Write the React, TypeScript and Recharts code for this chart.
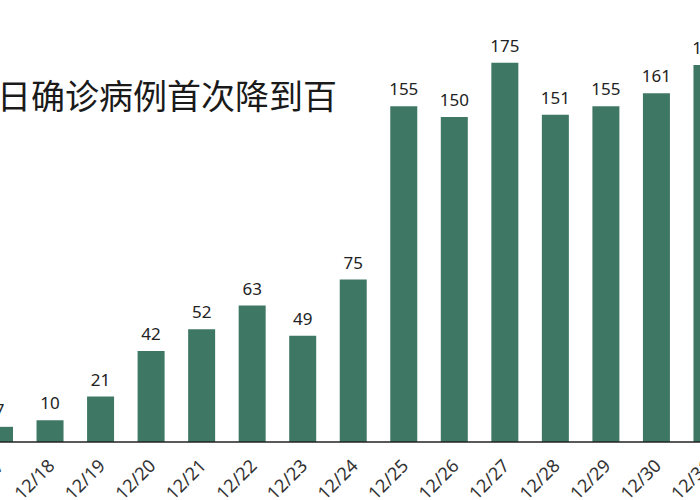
import React from "react";
import { BarChart, Bar, XAxis, YAxis, LabelList } from "recharts";

const categories = ["12/17", "12/18", "12/19", "12/20", "12/21", "12/22", "12/23", "12/24", "12/25", "12/26", "12/27", "12/28", "12/29", "12/30", "12/31"];
const cases = [7, 10, 21, 42, 52, 63, 49, 75, 155, 150, 175, 151, 155, 161, 174];
const titleText = "日确诊病例首次降到百";

const data = categories.map((c, i) => ({ date: c, value: cases[i] }));

const BAR_COLOR = "#3F7765";

const Tick = (props: any) => {
  const { x, y, payload } = props;
  return (
    <g transform={`translate(${x + 6},${y + 17})`}>
      <text
        transform="rotate(-45)"
        textAnchor="end"
        fontSize={18}
        fontFamily="'Noto Sans', 'Open Sans', sans-serif"
        fill="#333"
      >
        {payload.value}
      </text>
    </g>
  );
};

export default function App() {
  return (
    <div
      style={{
        position: "fixed",
        left: 0,
        top: 0,
        width: 700,
        height: 500,
        overflow: "hidden",
        background: "#fff",
      }}
    >
      <div style={{ position: "absolute", left: -25.75, top: 0 }}>
        <BarChart
          width={758}
          height={500}
          data={data}
          margin={{ top: 8.67, right: 0, left: 0, bottom: 0 }}
        >
          <XAxis
            dataKey="date"
            height={58}
            interval={0}
            tickLine={false}
            axisLine={{ stroke: "#222", strokeWidth: 1.5 }}
            tick={<Tick />}
          />
          <YAxis hide domain={[0, 200]} allowDataOverflow />
          <Bar dataKey="value" fill={BAR_COLOR} barSize={27} isAnimationActive={false}>
            <LabelList
              dataKey="value"
              position="top"
              offset={11}
              fontSize={17}
              fontFamily="'Noto Sans', 'Open Sans', sans-serif"
              fill="#222"
            />
          </Bar>
        </BarChart>
      </div>
      <div
        style={{
          position: "absolute",
          left: -3,
          top: 78,
          fontSize: 34,
          lineHeight: "34px",
          fontFamily: "'Noto Sans CJK SC', sans-serif",
          color: "#1a1a1a",
          whiteSpace: "nowrap",
        }}
      >
        {titleText}
      </div>
    </div>
  );
}
